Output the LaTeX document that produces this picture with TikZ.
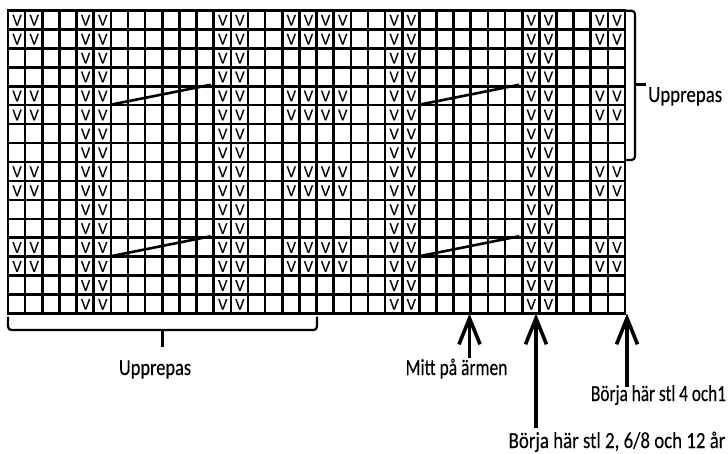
\documentclass[tikz,border=0pt]{standalone}
\usepackage{fontspec}
\usepackage{graphicx}
\setmainfont{Carlito}
\newfontfamily\lblfont[FakeBold=0.2]{Carlito}
\newfontfamily\vfont[FakeBold=0.3]{Liberation Sans}
\usetikzlibrary{arrows.meta}
\newcommand{\sx}[2][0.82]{\scalebox{#1}[1]{#2}}
\begin{document}
\begin{tikzpicture}[x=1pt,y=-1pt,
  gridline/.style={line width=2.6pt, line cap=rect},
  vmark/.style={font=\vfont\fontsize{15.5}{15.5}\selectfont, inner sep=0pt},
  lbl/.style={font=\lblfont\fontsize{23}{24}\selectfont, inner sep=0pt},
  bracket/.style={line width=2.2pt, rounded corners=3.5pt},
  pointer/.style={line width=3.2pt, -{Straight Barb[length=26pt,width=21pt,line width=3.6pt]}},
  diag/.style={line width=2.6pt}
]
\useasboundingbox (0,0) rectangle (728,454);
\fill[white] (0,0) rectangle (728,454);
\def\gx{8}\def\gw{17.14}\def\gy{10.5}\def\gh{18.94}
% grid
\foreach \i in {0,...,36} \draw[gridline] ({\gx+\i*\gw},\gy) -- ({\gx+\i*\gw},{\gy+16*\gh});
\foreach \j in {0,...,16} \draw[gridline] (\gx,{\gy+\j*\gh}) -- ({\gx+36*\gw},{\gy+\j*\gh});
% V marks
\foreach \c in {4,5,12,13,22,23,30,31}
  \foreach \r in {0,...,15}
    \node[vmark] (v-\c-\r) at ({\gx+(\c+0.5)*\gw+0.5},{\gy+(\r+0.5)*\gh+0.3}) {\scalebox{0.9}[1]{V}};
\foreach \c in {0,1,16,17,18,19,34,35}
  \foreach \r in {0,1,4,5,8,9,12,13}
    \node[vmark] (v-\c-\r) at ({\gx+(\c+0.5)*\gw+0.5},{\gy+(\r+0.5)*\gh+0.3}) {\scalebox{0.9}[1]{V}};
% diagonals
\foreach \c in {6,24}
  \foreach \r in {4,12}
    \draw[diag] ({\gx+\c*\gw},{\gy+(\r+1)*\gh-0.5}) -- ({\gx+(\c+6)*\gw-3},{\gy+\r*\gh-1.5});
% right bracket
\coordinate (rb1) at (625,10.7);
\coordinate (rb2) at (625,160);
\coordinate (rbt) at (646,85);
\draw[bracket] (rb1) -- (635,10.7) -- (635,160) -- (rb2);
\draw[line width=3pt] (635,85) -- (rbt);
% bottom bracket
\coordinate (bb1) at (8,316.5);
\coordinate (bb2) at (317,316.5);
\coordinate (bbt) at (162.5,347);
\draw[bracket] (bb1) -- (8,330) -- (317,330) -- (bb2);
\draw[line width=2.6pt] (162.5,330) -- (bbt);
% labels
\node[lbl, anchor=base west] (rep1) at (648,102) {\sx[0.82]{Upprepas}};
\node[lbl, anchor=base] (rep2) at (155,375) {\sx[0.8]{Upprepas}};
\node[lbl, anchor=base] (mitt) at (456.5,375) {\sx[0.76]{Mitt på ärmen}};
\node[lbl, anchor=base] (b4) at (658.5,401) {\sx[0.75]{Börja här stl 4 och1}};
\node[lbl, anchor=base] (b2) at (617,448) {\sx[0.82]{Börja här stl 2, 6/8 och 12 år}};
% arrows
\coordinate (a1s) at (469.5,358);
\coordinate (a1e) at (469.5,313.5);
\coordinate (a2s) at (536,428);
\coordinate (a2e) at (536,313.5);
\coordinate (a3s) at (627,387);
\coordinate (a3e) at (627,313.5);
\draw[pointer] (a1s) -- (a1e);
\draw[pointer] (a2s) -- (a2e);
\draw[pointer] (a3s) -- (a3e);
\end{tikzpicture}
\end{document}
